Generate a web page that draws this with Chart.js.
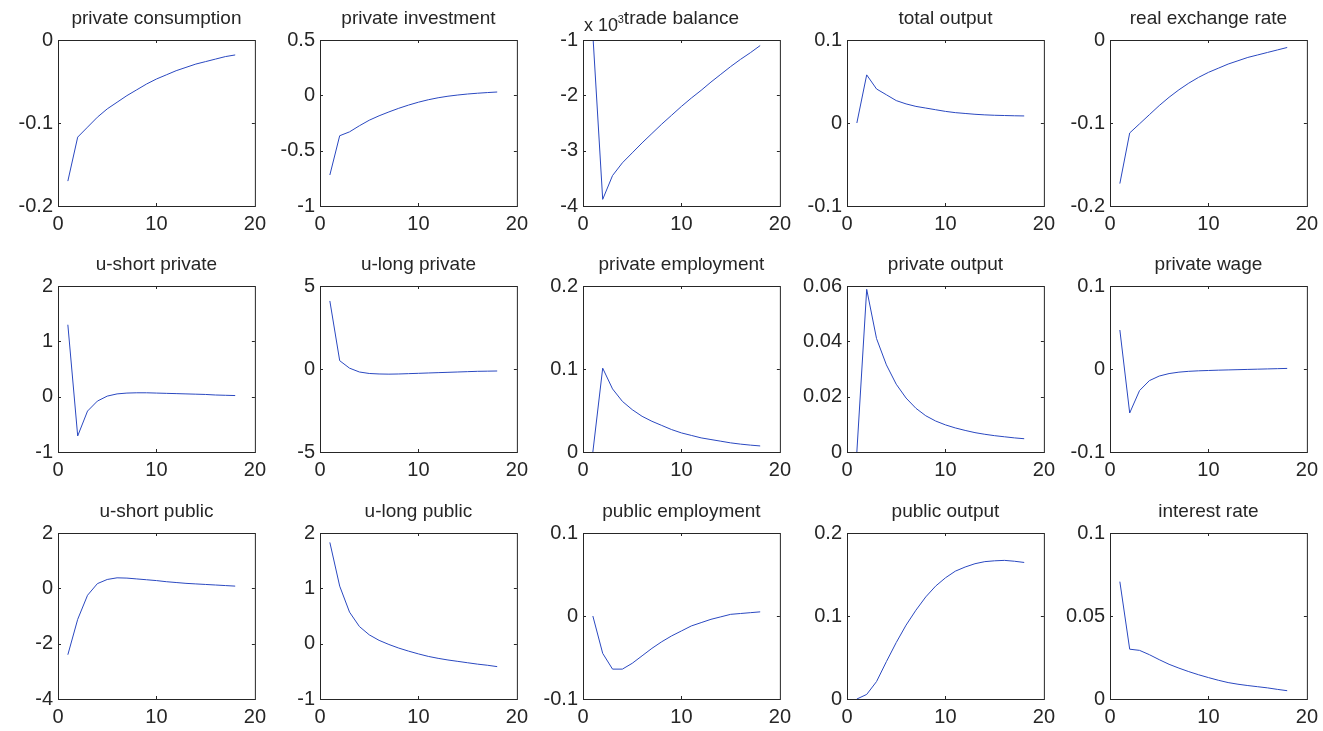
<!DOCTYPE html>
<html>
<head>
<meta charset="utf-8">
<script src="https://cdn.jsdelivr.net/npm/chart.js@4.4.1/dist/chart.umd.min.js"></script>
<style>
  html, body { margin: 0; padding: 0; background: #ffffff; }
  #fig { position: relative; width: 1323px; height: 731px; overflow: hidden; background: #ffffff; }
  #fig canvas { position: absolute; }
</style>
</head>
<body>
<div id="fig"></div>
<script>
// Impulse responses, horizon 1..18
const periods = [1, 2, 3, 4, 5, 6, 7, 8, 9, 10, 11, 12, 13, 14, 15, 16, 17, 18];

const privateConsumption = [-0.170, -0.117, -0.105, -0.093, -0.083, -0.075, -0.067, -0.060, -0.053, -0.047, -0.042, -0.037, -0.033, -0.029, -0.026, -0.023, -0.020, -0.018];
const privateInvestment  = [-0.72, -0.365, -0.33, -0.275, -0.225, -0.185, -0.15, -0.117, -0.088, -0.062, -0.04, -0.022, -0.008, 0.003, 0.012, 0.019, 0.025, 0.03];
// trade balance is expressed in units of 1e-3
const tradeBalance       = [-0.9, -3.88, -3.45, -3.22, -3.04, -2.86, -2.69, -2.52, -2.36, -2.20, -2.05, -1.91, -1.76, -1.62, -1.48, -1.35, -1.23, -1.10];
const totalOutput        = [0, 0.058, 0.041, 0.034, 0.027, 0.023, 0.020, 0.018, 0.016, 0.014, 0.0125, 0.0115, 0.0105, 0.0098, 0.0093, 0.0090, 0.0087, 0.0085];
const realExchangeRate   = [-0.173, -0.112, -0.101, -0.090, -0.079, -0.069, -0.060, -0.052, -0.045, -0.039, -0.034, -0.029, -0.025, -0.021, -0.018, -0.015, -0.012, -0.009];

const uShortPrivate      = [1.30, -0.71, -0.26, -0.08, 0.01, 0.05, 0.065, 0.07, 0.07, 0.065, 0.06, 0.055, 0.05, 0.045, 0.04, 0.03, 0.025, 0.02];
const uLongPrivate       = [4.1, 0.5, 0.05, -0.18, -0.27, -0.3, -0.31, -0.3, -0.28, -0.26, -0.24, -0.22, -0.2, -0.18, -0.16, -0.14, -0.13, -0.12];
const privateEmployment  = [0, 0.101, 0.076, 0.061, 0.051, 0.043, 0.037, 0.032, 0.027, 0.023, 0.020, 0.017, 0.015, 0.013, 0.011, 0.0095, 0.0083, 0.0073];
const privateOutput      = [0, 0.0588, 0.041, 0.0315, 0.0245, 0.0195, 0.0158, 0.0131, 0.0112, 0.0098, 0.0087, 0.0078, 0.0070, 0.0064, 0.0059, 0.0055, 0.0051, 0.0048];
const privateWage        = [0.047, -0.053, -0.026, -0.014, -0.0085, -0.0055, -0.0038, -0.0028, -0.0022, -0.0018, -0.0014, -0.0011, -0.0008, -0.0005, -0.0002, 0.0001, 0.0004, 0.0007];

const uShortPublic       = [-2.4, -1.12, -0.25, 0.17, 0.32, 0.38, 0.37, 0.34, 0.31, 0.28, 0.24, 0.21, 0.18, 0.16, 0.14, 0.12, 0.10, 0.08];
const uLongPublic        = [1.83, 1.04, 0.57, 0.31, 0.16, 0.06, -0.015, -0.08, -0.135, -0.185, -0.23, -0.265, -0.295, -0.32, -0.345, -0.37, -0.39, -0.415];
const publicEmployment   = [0, -0.045, -0.064, -0.064, -0.057, -0.048, -0.039, -0.031, -0.024, -0.018, -0.012, -0.008, -0.004, -0.001, 0.002, 0.003, 0.004, 0.005];
const publicOutput       = [0, 0.0055, 0.021, 0.045, 0.068, 0.089, 0.107, 0.123, 0.136, 0.146, 0.154, 0.159, 0.163, 0.1655, 0.1665, 0.167, 0.166, 0.1645];
const interestRate       = [0.0707, 0.030, 0.0293, 0.0267, 0.0237, 0.0209, 0.0186, 0.0165, 0.0146, 0.0129, 0.0113, 0.0099, 0.0089, 0.0081, 0.0074, 0.0067, 0.0058, 0.0050];

// Panel titles in grid order (3 rows x 5 columns)
const panelTitles = [
  'private consumption', 'private investment', 'trade balance', 'total output', 'real exchange rate',
  'u-short private', 'u-long private', 'private employment', 'private output', 'private wage',
  'u-short public', 'u-long public', 'public employment', 'public output', 'interest rate'
];
const panelSeries = [
  privateConsumption, privateInvestment, tradeBalance, totalOutput, realExchangeRate,
  uShortPrivate, uLongPrivate, privateEmployment, privateOutput, privateWage,
  uShortPublic, uLongPublic, publicEmployment, publicOutput, interestRate
];
// y-axis limits and tick step for each panel: [min, max, step]
const yLimits = [
  [-0.2, 0, 0.1], [-1, 0.5, 0.5], [-4, -1, 1], [-0.1, 0.1, 0.1], [-0.2, 0, 0.1],
  [-1, 2, 1], [-5, 5, 5], [0, 0.2, 0.1], [0, 0.06, 0.02], [-0.1, 0.1, 0.1],
  [-4, 2, 2], [-1, 2, 1], [-0.1, 0.1, 0.1], [0, 0.2, 0.1], [0, 0.1, 0.05]
];
const xTicks = { min: 0, max: 20, step: 10 };

// Layout of the subplot grid
const colLefts = [58, 320, 583, 847, 1110];
const rowTops = [40, 286, 533];
const plotW = 200, plotH = 166;
const padLeft = 58, padTop = 40, padRight = 14, padBottom = 34;

const INK = '#262626';
const LINE = '#2a48c0';
const FONT = '"Liberation Sans", Arial, Helvetica, sans-serif';

// Axes box with inward ticks on all four sides, plus the subplot title
const axesFrame = {
  id: 'axesFrame',
  afterDatasetsDraw(chart, args, opts) {
    const { ctx, chartArea } = chart;
    const { left, top, right, bottom } = chartArea;
    const tickLen = 3;
    ctx.save();
    ctx.strokeStyle = INK;
    ctx.lineWidth = 1;
    ctx.strokeRect(left + 0.5, top + 0.5, right - left, bottom - top);
    ctx.beginPath();
    chart.scales.x.ticks.forEach(t => {
      if (t.value <= chart.scales.x.min || t.value >= chart.scales.x.max) return;
      const px = Math.round(chart.scales.x.getPixelForValue(t.value)) + 0.5;
      ctx.moveTo(px, bottom); ctx.lineTo(px, bottom - tickLen);
      ctx.moveTo(px, top); ctx.lineTo(px, top + tickLen);
    });
    chart.scales.y.ticks.forEach(t => {
      if (t.value <= chart.scales.y.min + 1e-12 || t.value >= chart.scales.y.max - 1e-12) return;
      const py = Math.round(chart.scales.y.getPixelForValue(t.value)) + 0.5;
      ctx.moveTo(left, py); ctx.lineTo(left + tickLen, py);
      ctx.moveTo(right, py); ctx.lineTo(right - tickLen, py);
    });
    ctx.stroke();

    ctx.fillStyle = INK;
    ctx.textBaseline = 'alphabetic';
    ctx.textAlign = 'center';
    ctx.font = '19px ' + FONT;
    ctx.fillText(opts.title, (left + right) / 2, top - 16);

    if (opts.exponent) {
      ctx.textAlign = 'left';
      ctx.font = '18px ' + FONT;
      ctx.fillText('x 10', left + 1, top - 9);
      ctx.font = '11px ' + FONT;
      ctx.fillText(opts.exponent, left + 31, top - 17);
    }
    ctx.restore();
  }
};

function fmt(v) {
  const r = Math.round(v * 1e6) / 1e6;
  return String(r === 0 ? 0 : r);
}

const fig = document.getElementById('fig');
panelTitles.forEach((title, i) => {
  const row = Math.floor(i / 5), col = i % 5;
  const canvas = document.createElement('canvas');
  const cw = padLeft + plotW + padRight;
  const ch = padTop + plotH + padBottom;
  canvas.width = cw; canvas.height = ch;
  canvas.style.width = cw + 'px'; canvas.style.height = ch + 'px';
  canvas.style.left = (colLefts[col] - padLeft) + 'px';
  canvas.style.top = (rowTops[row] - padTop) + 'px';
  fig.appendChild(canvas);

  const [yMin, yMax, yStep] = yLimits[i];
  const values = panelSeries[i];

  new Chart(canvas, {
    type: 'line',
    data: {
      datasets: [{
        data: periods.map((p, k) => ({ x: p, y: values[k] })),
        borderColor: LINE,
        borderWidth: 1,
        pointRadius: 0,
        tension: 0,
        fill: false
      }]
    },
    options: {
      responsive: false,
      animation: false,
      devicePixelRatio: 1,
      layout: { padding: { top: padTop, right: padRight, left: 0, bottom: 0 } },
      plugins: {
        legend: { display: false },
        tooltip: { enabled: false },
        title: { display: false },
        axesFrame: { title: title, exponent: i === 2 ? '-3' : null }
      },
      scales: {
        x: {
          type: 'linear',
          min: xTicks.min, max: xTicks.max,
          grid: { display: false, drawTicks: false },
          border: { display: false },
          ticks: {
            stepSize: xTicks.step,
            color: INK,
            font: { family: FONT, size: 20 },
            padding: 6,
            maxRotation: 0,
            autoSkip: false,
            callback: v => fmt(v)
          },
          afterFit(scale) { scale.height = padBottom; }
        },
        y: {
          type: 'linear',
          min: yMin, max: yMax,
          grid: { display: false, drawTicks: false },
          border: { display: false },
          ticks: {
            stepSize: yStep,
            color: INK,
            font: { family: FONT, size: 20 },
            padding: 5,
            autoSkip: false,
            callback: v => fmt(v)
          },
          afterFit(scale) { scale.width = padLeft; }
        }
      }
    },
    plugins: [axesFrame]
  });
});
</script>
</body>
</html>
